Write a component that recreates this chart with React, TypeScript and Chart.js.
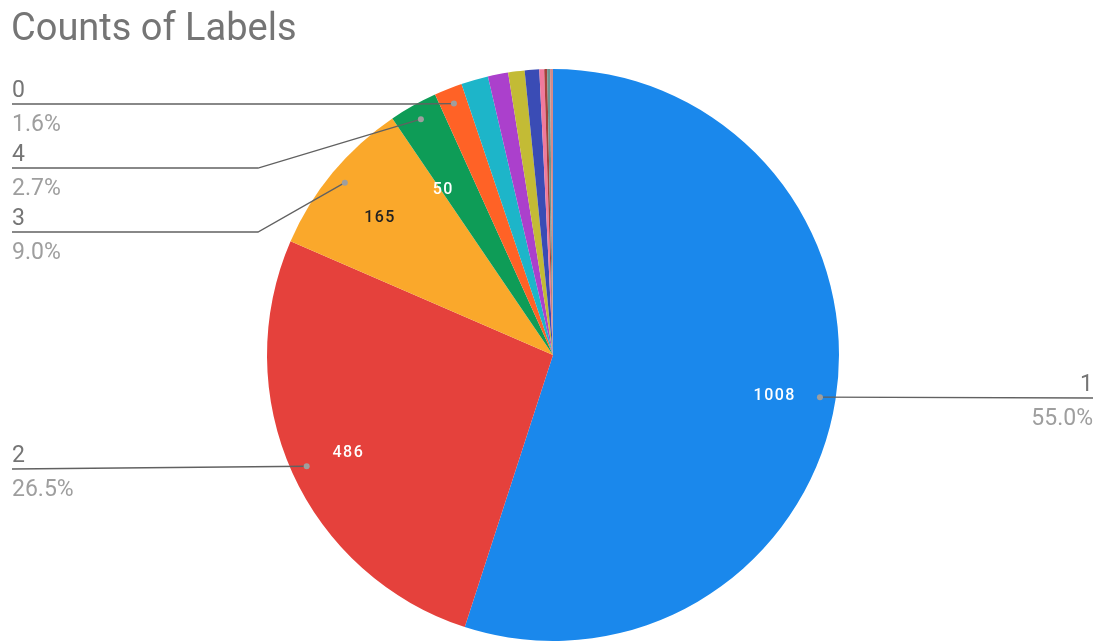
import React, { useEffect, useRef } from "react";
import { Chart, registerables } from "chart.js";
Chart.register(...registerables);

const titleText = "Counts of Labels";
const labels = ["1", "2", "3", "4", "0", "5", "6", "7", "8", "9", "10", "11", "12"];
const counts = [1008, 486, 165, 50, 29, 28, 21, 17, 15, 5, 3, 3, 3];
const colors = [
  "#1A88EC", "#E5413C", "#FAA82B", "#0E9C57", "#FF6226", "#1DB5C9",
  "#AB40CC", "#C3BB35", "#3A4CB5", "#F07A9C", "#A5403A", "#6A9590", "#D48A8A",
];
// which labels get an outside leader label
const labeledCount = 5;

// leader layout (positions only): side, line y, bend x (null = straight)
const leaderLayout = [
  { side: "right", y: 398, bend: null },
  { side: "left", y: 469, bend: null },
  { side: "left", y: 232, bend: 258 },
  { side: "left", y: 168, bend: 258 },
  { side: "left", y: 104, bend: 410 },
];

const FONT = "Roboto, 'Noto Sans', sans-serif";

const labelPlugin = {
  id: "gLabels",
  afterDatasetsDraw(chart: any) {
    const ctx = chart.ctx as CanvasRenderingContext2D;
    const meta = chart.getDatasetMeta(0);
    const data = chart.data.datasets[0].data as number[];
    const total = data.reduce((a, b) => a + b, 0);
    ctx.save();
    // value labels inside slices
    meta.data.forEach((arc: any, i: number) => {
      const pct = data[i] / total;
      if (pct < 0.02) return;
      const mid = (arc.startAngle + arc.endAngle) / 2;
      const narrow = pct < 0.05;
      const f = narrow ? 0.71 : 0.785;
      const a = narrow ? mid - 0.06 : mid;
      const r = arc.outerRadius * f;
      const x = arc.x + Math.cos(a) * r;
      const y = arc.y + Math.sin(a) * r + 6;
      ctx.font = `500 16px ${FONT}`;
      (ctx as any).letterSpacing = "1.5px";
      ctx.fillStyle = i === 2 ? "#222222" : "#ffffff";
      ctx.textAlign = "center";
      ctx.textBaseline = "middle";
      ctx.fillText(String(data[i]), x, y);
    });
    (ctx as any).letterSpacing = "0px";
    // leader lines + outside labels
    for (let i = 0; i < labeledCount; i++) {
      const arc: any = meta.data[i];
      const lay = leaderLayout[i];
      const mid = (arc.startAngle + arc.endAngle) / 2;
      const r = arc.outerRadius * 0.945;
      const dx = arc.x + Math.cos(mid) * r;
      const dy = arc.y + Math.sin(mid) * r;
      const pctText = ((data[i] / total) * 100).toFixed(1) + "%";
      ctx.strokeStyle = "#616161";
      ctx.lineWidth = 1.3;
      ctx.beginPath();
      if (lay.side === "left") {
        ctx.moveTo(12, lay.y);
        if (lay.bend !== null) ctx.lineTo(lay.bend, lay.y);
        ctx.lineTo(dx, dy);
      } else {
        ctx.moveTo(1093, lay.y);
        if (lay.bend !== null) ctx.lineTo(lay.bend, lay.y);
        ctx.lineTo(dx, dy);
      }
      ctx.stroke();
      ctx.fillStyle = "#9E9E9E";
      ctx.beginPath();
      ctx.arc(dx, dy, 3, 0, Math.PI * 2);
      ctx.fill();

      ctx.font = `23px ${FONT}`;
      ctx.textBaseline = "alphabetic";
      const tx = lay.side === "left" ? 12 : 1093;
      ctx.textAlign = lay.side === "left" ? "left" : "right";
      ctx.fillStyle = "#757575";
      ctx.fillText(labels[i], tx, lay.y - 7);
      ctx.fillStyle = "#9E9E9E";
      ctx.fillText(pctText, tx, lay.y + 27);
    }
    // title
    ctx.font = `38px ${FONT}`;
    ctx.fillStyle = "#757575";
    ctx.textAlign = "left";
    ctx.textBaseline = "alphabetic";
    ctx.fillText(titleText, 11, 40);
    ctx.restore();
  },
};

export default function App() {
  const ref = useRef<HTMLCanvasElement>(null);
  useEffect(() => {
    document.body.style.margin = "0";
    const chart = new Chart(ref.current!, {
      type: "pie",
      data: {
        labels,
        datasets: [
          {
            data: counts,
            backgroundColor: colors,
            borderWidth: 0,
          },
        ],
      },
      options: {
        animation: false,
        responsive: false,
        layout: { padding: { top: 69, bottom: 1, left: 267, right: 261 } },
        plugins: {
          legend: { display: false },
          tooltip: { enabled: false },
          title: { display: false },
        },
      },
      plugins: [labelPlugin],
    });
    return () => chart.destroy();
  }, []);
  return (
    <div style={{ width: 1100, height: 642, background: "#fff" }}>
      <canvas ref={ref} width={1100} height={642} style={{ display: "block" }} />
    </div>
  );
}
